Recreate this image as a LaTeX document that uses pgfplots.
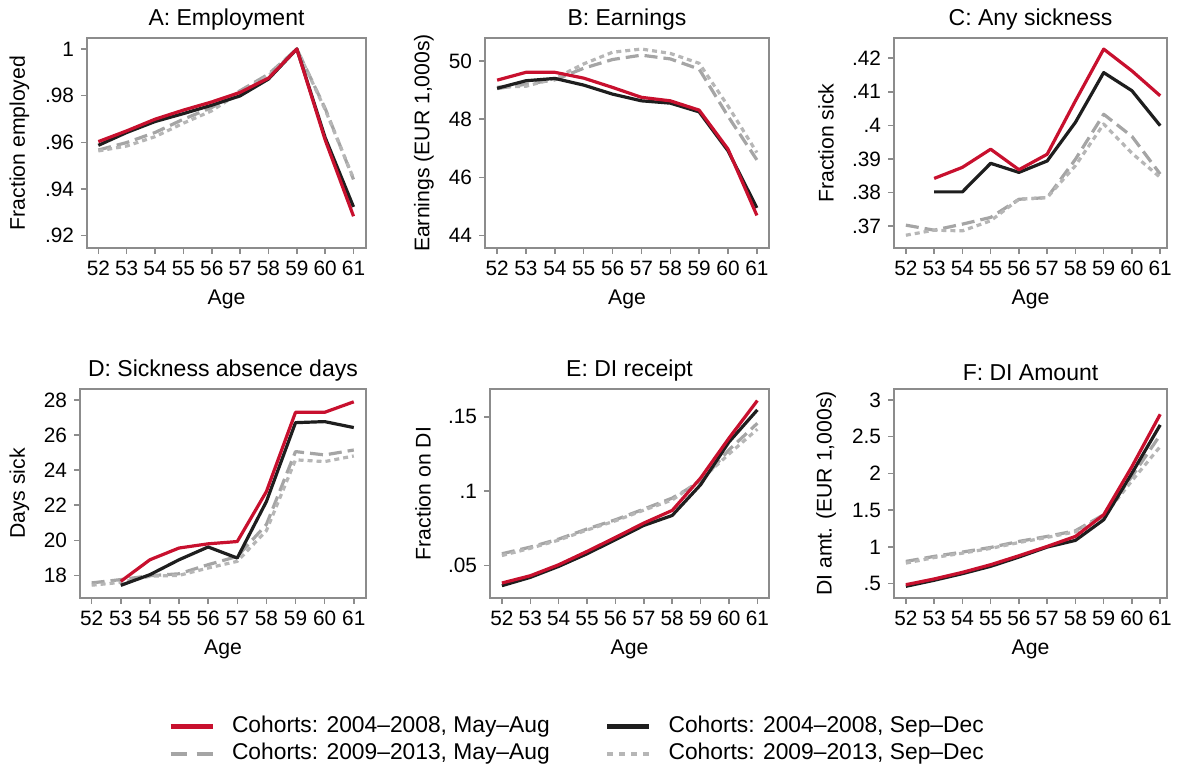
\documentclass[border=0pt]{standalone}
\usepackage{pgfplots}
\pgfplotsset{compat=1.18}
\usepackage{pgfplotstable}
\usepackage{fontspec}
\setmainfont{Liberation Sans}
\definecolor{cred}{RGB}{200,16,46}
\definecolor{cblack}{RGB}{30,30,30}
\definecolor{cgray}{RGB}{165,165,165}
\definecolor{cgrayl}{RGB}{182,182,182}
\definecolor{cframe}{RGB}{140,140,140}

\pgfplotstableread{
age r k d t
52 .9603 .9587 .9567 .9563
53 .9649 .9642 .9599 .9584
54 .9699 .9689 .9642 .9624
55 .9738 .9723 .9699 .9682
56 .9773 .9759 .9749 .9735
57 .9814 .9799 .9821 .9814
58 .9875 .9871 .9892 .9885
59 1 1 1 1
60 .9610 .9620 .9745 .9740
61 .9283 .9323 .9441 .9445
}\tA
\pgfplotstableread{
age r k d t
52 49.34 49.06 49.05 49.10
53 49.61 49.32 49.20 49.13
54 49.61 49.40 49.35 49.40
55 49.41 49.17 49.75 49.90
56 49.09 48.86 50.05 50.30
57 48.75 48.63 50.20 50.41
58 48.63 48.55 50.07 50.26
59 48.31 48.25 49.72 49.92
60 46.97 46.91 48.10 48.45
61 44.69 44.95 46.60 46.85
}\tB
\pgfplotstableread{
age r k d t
52 nan nan .3703 .3673
53 .3842 .3802 .3688 .3688
54 .3875 .3802 .3706 .3686
55 .3929 .3887 .3726 .3716
56 .3868 .3860 .3780 .3780
57 .3914 .3894 .3785 .3785
58 .4073 .4009 .3899 .3880
59 .4227 .4157 .4033 .4004
60 .4162 .4103 .3967 .3917
61 .4088 .3999 .3855 .3845
}\tC
\pgfplotstableread{
age r k d t
52 nan nan 17.57 17.44
53 17.66 17.43 17.76 17.60
54 18.89 18.04 17.98 17.95
55 19.56 18.89 18.09 18.00
56 19.80 19.62 18.61 18.42
57 19.93 18.99 19.08 18.80
58 22.78 22.21 20.90 20.55
59 27.30 26.71 25.06 24.59
60 27.30 26.77 24.87 24.49
61 27.90 26.43 25.15 24.81
}\tD
\pgfplotstableread{
age r k d t
52 .0381 .0363 .0578 .0566
53 .0430 .0419 .0623 .0615
54 .0504 .0493 .0677 .0670
55 .0594 .0578 .0745 .0738
56 .0688 .0673 .0807 .0800
57 .0785 .0769 .0879 .0872
58 .0870 .0836 .0953 .0940
59 .1088 .1043 .1065 .1075
60 .1357 .1331 .1278 .1250
61 .1610 .1547 .1457 .1417
}\tE
\pgfplotstableread{
age r k d t
52 .486 .464 .803 .780
53 .564 .546 .871 .855
54 .654 .636 .930 .915
55 .758 .736 .993 .980
56 .880 .862 1.075 1.060
57 1.007 .998 1.143 1.130
58 1.143 1.089 1.220 1.205
59 1.438 1.370 1.438 1.420
60 2.094 2.004 1.960 1.900
61 2.805 2.660 2.524 2.366
}\tF

\pgfplotsset{
  panel/.style={
    scale only axis, anchor=south west,
    axis line style={cframe, line width=0.75pt},
    tick style={cframe, line width=0.75pt},
    tick align=outside, major tick length=3pt, tick pos=left,
    xtick={52,...,61},
    /pgf/number format/assume math mode=true,
    ticklabel style={font=\fontsize{10.4pt}{12pt}\selectfont, text=black},
    label style={font=\fontsize{10.6pt}{12.5pt}\selectfont},
    title style={font=\fontsize{11.5pt}{13.5pt}\selectfont, yshift=-5.5pt},
    ylabel style={anchor=center},
    xlabel={Age},
    every axis plot/.append style={line width=1.6pt, line join=round},
  },
  sr/.style={cred, solid},
  sk/.style={cblack, solid},
  sd/.style={cgray, dash pattern=on 6.5pt off 3pt},
  st/.style={cgrayl, dash pattern=on 2.5pt off 2pt},
  lsd/.style={cgray, dash pattern=on 8pt off 5pt},
  lst/.style={cgrayl, dash pattern=on 3pt off 3pt},
}

\begin{document}
\begin{tikzpicture}
\useasboundingbox (0,0) rectangle (588.5pt,382.5pt);

% A
\begin{axis}[panel, at={(43.5pt,258.5pt)}, width=139.5pt, height=105pt,
  xmin=51.6, xmax=61.44, ymin=.9147, ymax=1.0047,
  ytick={.92,.94,.96,.98,1}, yticklabels={.92,.94,.96,.98,1},
  ylabel={Fraction employed}, ylabel style={at={(axis description cs:-0.242,0.5)}},
  title={A: Employment}]
\addplot[sd] table[x=age,y=d]{\tA};
\addplot[st] table[x=age,y=t]{\tA};
\addplot[sk] table[x=age,y=k]{\tA};
\addplot[sr] table[x=age,y=r]{\tA};
\end{axis}

% B
\begin{axis}[panel, at={(242.5pt,258.5pt)}, width=142pt, height=105pt,
  xmin=51.58, xmax=61.42, ymin=43.57, ymax=50.79,
  ytick={44,46,48,50}, yticklabels={44,46,48,50},
  ylabel={Earnings (EUR 1,000s)}, ylabel style={at={(axis description cs:-0.215,0.5)}},
  title={B: Earnings}]
\addplot[sd] table[x=age,y=d]{\tB};
\addplot[st] table[x=age,y=t]{\tB};
\addplot[sk] table[x=age,y=k]{\tB};
\addplot[sr] table[x=age,y=r]{\tB};
\end{axis}

% C
\begin{axis}[panel, at={(447pt,258.5pt)}, width=136.5pt, height=105pt,
  xmin=51.58, xmax=61.24, ymin=.3635, ymax=.426,
  ytick={.37,.38,.39,.40,.41,.42}, yticklabels={.37,.38,.39,.4,.41,.42},
  ylabel={Fraction sick}, ylabel style={at={(axis description cs:-0.249,0.5)}},
  title={C: Any sickness}]
\addplot[sd] table[x=age,y=d]{\tC};
\addplot[st] table[x=age,y=t]{\tC};
\addplot[sk] table[x=age,y=k]{\tC};
\addplot[sr] table[x=age,y=r]{\tC};
\end{axis}

% D
\begin{axis}[panel, at={(40pt,83.5pt)}, width=143pt, height=104.5pt,
  xmin=51.6, xmax=61.42, ymin=16.71, ymax=28.63,
  ytick={18,20,22,24,26,28}, yticklabels={18,20,22,24,26,28},
  ylabel={Days sick}, ylabel style={at={(axis description cs:-0.2115,0.5)}},
  title={D: Sickness absence days}]
\addplot[sd] table[x=age,y=d]{\tD};
\addplot[st] table[x=age,y=t]{\tD};
\addplot[sk] table[x=age,y=k]{\tD};
\addplot[sr] table[x=age,y=r]{\tD};
\end{axis}

% E
\begin{axis}[panel, at={(245pt,83.5pt)}, width=139.5pt, height=104.5pt,
  xmin=51.58, xmax=61.41, ymin=.028, ymax=.1688,
  ytick={.05,.1,.15}, yticklabels={.05,.1,.15},
  ylabel={Fraction on DI}, ylabel style={at={(axis description cs:-0.240,0.5)}},
  title={E: DI receipt},
  legend columns=2,
  legend style={at={(axis description cs:0.310,-0.680)}, anchor=center,
    draw=none, fill=none, font=\fontsize{11.4pt}{13pt}\selectfont,
    cells={anchor=west},
    nodes={inner sep=0.5pt, text height=8.2pt, text depth=2.3pt},
    row sep=2.3pt,
    /tikz/every odd column/.append style={column sep=8pt},
    /tikz/every even column/.append style={column sep=27pt}},
  legend image code/.code={\draw[#1, line width=2.4pt] (0pt,0pt) -- (21pt,0pt);}]
\addlegendimage{sr}\addlegendentry{Cohorts: 2004–2008, May–Aug}
\addlegendimage{sk}\addlegendentry{Cohorts: 2004–2008, Sep–Dec}
\addlegendimage{lsd}\addlegendentry{Cohorts: 2009–2013, May–Aug}
\addlegendimage{lst}\addlegendentry{Cohorts: 2009–2013, Sep–Dec}
\addplot[sd, forget plot] table[x=age,y=d]{\tE};
\addplot[st, forget plot] table[x=age,y=t]{\tE};
\addplot[sk, forget plot] table[x=age,y=k]{\tE};
\addplot[sr, forget plot] table[x=age,y=r]{\tE};
\end{axis}

% F
\begin{axis}[panel, at={(447pt,83.5pt)}, width=136.5pt, height=104.5pt,
  xmin=51.58, xmax=61.24, ymin=.305, ymax=3.149,
  ytick={.5,1,1.5,2,2.5,3}, yticklabels={.5,1,1.5,2,2.5,3},
  ylabel={DI amt. (EUR 1,000s)}, ylabel style={at={(axis description cs:-0.249,0.5)}},
  title={F: DI Amount}]
\addplot[sd] table[x=age,y=d]{\tF};
\addplot[st] table[x=age,y=t]{\tF};
\addplot[sk] table[x=age,y=k]{\tF};
\addplot[sr] table[x=age,y=r]{\tF};
\end{axis}
\end{tikzpicture}
\end{document}
